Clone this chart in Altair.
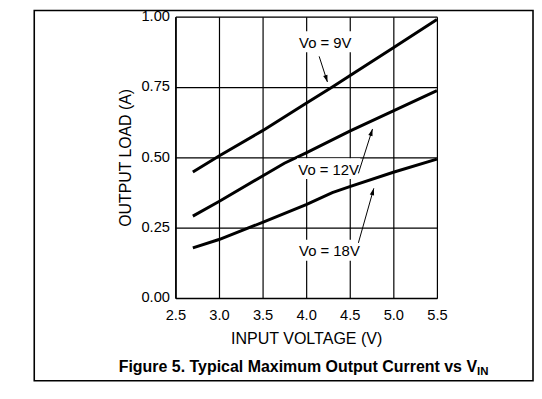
import math
import altair as alt
import pandas as pd

FONT = "Liberation Sans"

# ---- curve data ----
vin_9 = [2.7, 3.0, 3.5, 4.0, 4.3, 4.5, 5.0, 5.5]
load_9 = [0.448, 0.505, 0.595, 0.692, 0.750, 0.790, 0.890, 0.990]

vin_12 = [2.7, 3.0, 3.5, 3.75, 4.0, 4.5, 5.0, 5.5]
load_12 = [0.291, 0.343, 0.434, 0.479, 0.516, 0.593, 0.665, 0.737]

vin_18 = [2.7, 3.0, 3.5, 4.0, 4.3, 4.5, 5.0, 5.5]
load_18 = [0.178, 0.208, 0.269, 0.332, 0.375, 0.396, 0.447, 0.494]

series_names = ["Vo = 9V", "Vo = 12V", "Vo = 18V"]

x_ticks = [2.5, 3.0, 3.5, 4.0, 4.5, 5.0, 5.5]
y_ticks = [0.0, 0.25, 0.50, 0.75, 1.00]

# ---- annotations ----
label_x = [4.219, 4.258, 4.267]
label_y = [0.911, 0.460, 0.170]
arrow_x1 = [4.149, 4.599, 4.599]
arrow_y1 = [0.859, 0.443, 0.196]
arrow_x2 = [4.244, 4.761, 4.776]
arrow_y2 = [0.768, 0.601, 0.390]

W, H = 264, 284
X_DOM = [2.5, 5.5]
Y_DOM = [0.0, 1.0]

rows = []
for name, xs, ys in zip(series_names, [vin_9, vin_12, vin_18], [load_9, load_12, load_18]):
    for a, b in zip(xs, ys):
        rows.append({"series": name, "x": a, "y": b})
curves = pd.DataFrame(rows)

px_x = W / (X_DOM[1] - X_DOM[0])
px_y = H / (Y_DOM[1] - Y_DOM[0])
angles = []
for a1, b1, a2, b2 in zip(arrow_x1, arrow_y1, arrow_x2, arrow_y2):
    dx = (a2 - a1) * px_x
    dy = -(b2 - b1) * px_y
    angles.append(math.degrees(math.atan2(dx, -dy)) % 360)

ann = pd.DataFrame({
    "label": series_names, "lx": label_x, "ly": label_y,
    "x": arrow_x1, "y": arrow_y1, "x2": arrow_x2, "y2": arrow_y2,
    "angle": angles,
})

x_scale = alt.Scale(domain=X_DOM, nice=False, zero=False)
y_scale = alt.Scale(domain=Y_DOM, nice=False)

x_axis = alt.Axis(
    values=x_ticks, format=".1f", title="INPUT VOLTAGE (V)",
    grid=True, gridColor="black", gridWidth=1.2, gridOpacity=1,
    ticks=False, tickSize=0, domainColor="black", domainWidth=1.6,
    labelFont=FONT, labelFontSize=14.8, labelColor="black",
    labelBaseline="alphabetic", labelPadding=21.5, labelFlush=False,
    titleFont=FONT, titleFontSize=16.2, titleFontWeight="normal", titleColor="black",
    titleBaseline="alphabetic", titleY=46, titleX=W / 2,
)
y_axis = alt.Axis(
    values=y_ticks, format=".2f", title="OUTPUT LOAD (A)",
    grid=True, gridColor="black", gridWidth=1.2, gridOpacity=1,
    ticks=False, tickSize=0, domainColor="black", domainWidth=1.6,
    labelFont=FONT, labelFontSize=14.8, labelColor="black",
    labelPadding=6, labelFlush=False,
    titleFont=FONT, titleFontSize=16, titleFontWeight="normal", titleColor="black",
    titleBaseline="alphabetic", titleAngle=270, titleX=-45.5, titleY=H / 2,
    titleAlign="center",
)

lines = alt.Chart(curves).mark_line(color="black", strokeWidth=3).encode(
    x=alt.X("x:Q", scale=x_scale, axis=x_axis),
    y=alt.Y("y:Q", scale=y_scale, axis=y_axis),
    detail="series:N",
)

box_path = "M-1,-0.33L1,-0.33L1,0.33L-1,0.33Z"
boxes = alt.Chart(ann).mark_point(
    shape=box_path, filled=True, color="white", opacity=1, size=4096, strokeWidth=0
).encode(x=alt.X("lx:Q"), y=alt.Y("ly:Q"))

texts = alt.Chart(ann).mark_text(
    font=FONT, fontSize=15, color="black", align="center", baseline="middle", dy=1
).encode(x="lx:Q", y="ly:Q", text="label:N")

rules = alt.Chart(ann).mark_rule(color="black", strokeWidth=1).encode(
    x="x:Q", y="y:Q", x2="x2:Q", y2="y2:Q"
)

head_path = "M0,0L-0.32,1L0.32,1Z"
heads = alt.Chart(ann).mark_point(
    shape=head_path, filled=True, color="black", opacity=1, size=196, strokeWidth=0
).encode(x="x2:Q", y="y2:Q", angle=alt.Angle("angle:Q", scale=None))

one = pd.DataFrame({"k": [0]})
frame = alt.Chart(one).mark_rect(fillOpacity=0, stroke="black", strokeWidth=1.6).encode(
    x=alt.value(-142.5), x2=alt.value(361), y=alt.value(-6.2), y2=alt.value(367.5)
)
title_main = alt.Chart(one).mark_text(
    font=FONT, fontSize=16.1, fontWeight="bold", color="black", align="right", baseline="alphabetic"
).encode(x=alt.value(304.5), y=alt.value(358.3), text=alt.value("Figure 5. Typical Maximum Output Current vs V"))
title_sub = alt.Chart(one).mark_text(
    font=FONT, fontSize=11.5, fontWeight="bold", color="black", align="left", baseline="alphabetic"
).encode(x=alt.value(304.5), y=alt.value(361.7), text=alt.value("IN"))

chart = alt.layer(lines, boxes, texts, rules, heads, frame, title_main, title_sub).properties(
    width=W, height=H,
    autosize=alt.AutoSizeParams(type="none"),
    padding={"left": 169, "top": 7, "right": 98, "bottom": 85},
).configure_view(stroke="black", strokeWidth=1.2).configure(background="white")

chart.save("out.html", embed_options={"renderer": "svg", "actions": False})
